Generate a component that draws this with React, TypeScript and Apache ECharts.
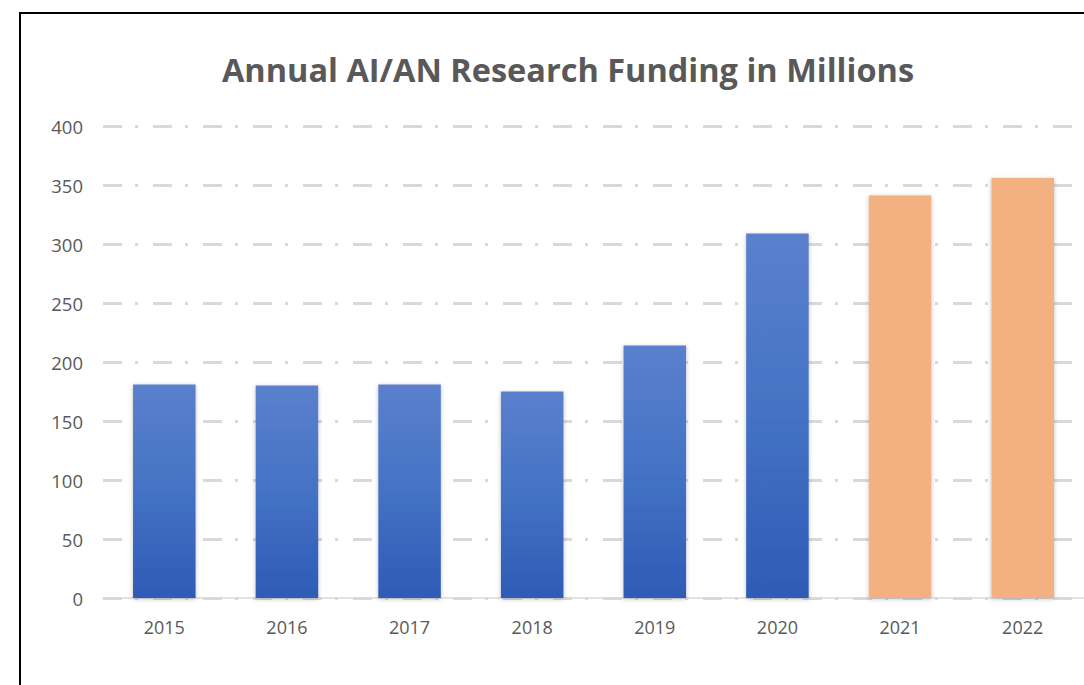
import React, { useEffect, useRef } from "react";
import * as echarts from "echarts";

const TITLE = "Annual AI/AN Research Funding in Millions";
const years = ["2015", "2016", "2017", "2018", "2019", "2020", "2021", "2022"];
const funding = [181, 180, 181, 175, 214, 309, 341, 356];
// years shown as projected (orange)
const projectedYears = ["2021", "2022"];
const yTicks = [0, 50, 100, 150, 200, 250, 300, 350, 400];

export default function App() {
  const ref = useRef<HTMLDivElement>(null);
  useEffect(() => {
    if (!ref.current) return;
    const chart = echarts.init(ref.current, undefined, { renderer: "svg" });
    const blue = new echarts.graphic.LinearGradient(0, 0, 0, 1, [
      { offset: 0, color: "#5b80cd" },
      { offset: 0.5, color: "#4472c4" },
      { offset: 1, color: "#2e5bb6" },
    ]);
    const data = funding.map((v, i) => ({
      value: v,
      itemStyle: {
        color: projectedYears.includes(years[i]) ? "#f3b081" : blue,
      },
    }));
    chart.setOption({
      animation: false,
      backgroundColor: "#ffffff",
      title: {
        text: TITLE,
        left: 563,
        top: 48,
        textAlign: "center",
        textStyle: {
          fontFamily: "Open Sans",
          fontWeight: "bold",
          fontSize: 32.5,
          color: "#595959",
        },
      },
      graphic: [
        {
          type: "rect",
          shape: { x: 20, y: 13, width: 2000, height: 2000 },
          style: { fill: "none", stroke: "#000000", lineWidth: 2 },
          silent: true,
          z: 100,
        },
      ],
      grid: { left: 103, top: 126, width: 984, height: 472 },
      xAxis: {
        type: "category",
        data: years,
        axisLine: { show: true, lineStyle: { color: "#d9d9d9", width: 1.5 } },
        axisTick: { show: false },
        axisLabel: {
          color: "#595959",
          fontSize: 18,
          fontFamily: "Open Sans",
          margin: 20,
        },
      },
      yAxis: {
        type: "value",
        min: yTicks[0],
        max: yTicks[yTicks.length - 1],
        interval: 50,
        axisLine: { show: false },
        axisTick: { show: false },
        axisLabel: {
          color: "#595959",
          fontSize: 18.5,
          fontFamily: "Open Sans",
          margin: 20,
        },
        splitLine: {
          show: true,
          lineStyle: { color: "#d9d9d9", width: 3, type: [19, 13, 3, 15] },
        },
      },
      series: [
        {
          type: "bar",
          data,
          barWidth: "51%",
          itemStyle: {
            shadowBlur: 4,
            shadowColor: "rgba(0,0,0,0.25)",
            shadowOffsetX: 0,
            shadowOffsetY: 1,
          },
        },
      ],
    });
    return () => chart.dispose();
  }, []);
  return (
    <div
      ref={ref}
      style={{ position: "absolute", left: 0, top: 0, width: 1084, height: 685 }}
    />
  );
}
